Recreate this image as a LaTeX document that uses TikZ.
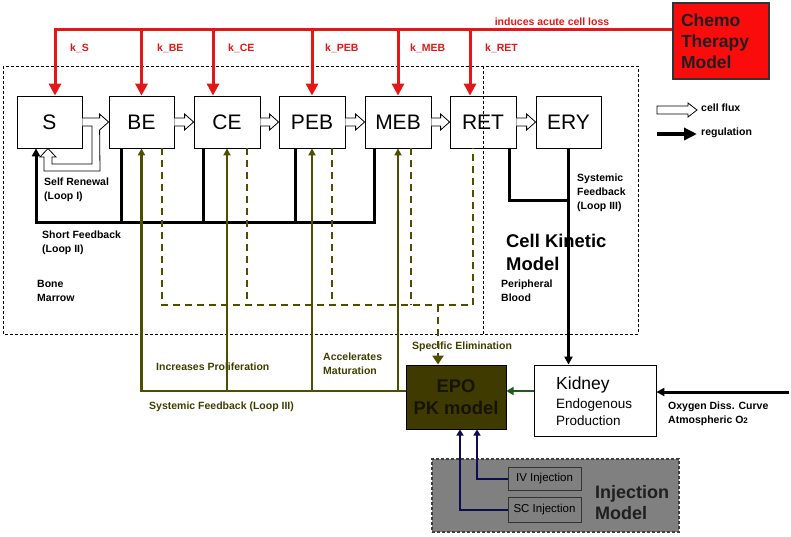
\documentclass[tikz,border=0pt]{standalone}
\usepackage{fontspec}
\setmainfont{Liberation Sans}
\usetikzlibrary{arrows.meta,calc}
\definecolor{cred}{RGB}{228,22,22}
\definecolor{chemofill}{RGB}{250,12,12}
\definecolor{oliveline}{RGB}{78,78,0}
\definecolor{olivetext}{RGB}{62,62,0}
\definecolor{epofill}{RGB}{62,58,0}
\definecolor{epotext}{RGB}{20,20,0}
\definecolor{kgreen}{RGB}{30,92,30}
\definecolor{navyc}{RGB}{12,12,82}
\definecolor{injgray}{RGB}{128,128,128}
\newcommand\fluxarrow[2]{\draw[flux] ($(#1)+(0,-4)$) -- ($(#2)+(-9,-4)$) -- ($(#2)+(-9,-8)$) -- (#2) -- ($(#2)+(-9,8)$) -- ($(#2)+(-9,4)$) -- ($(#1)+(0,4)$);}
\begin{document}
\begin{tikzpicture}[x=1pt,y=-1pt,
  cellbox/.style={draw, line width=0.8pt, fill=white, minimum width=65pt, minimum height=52pt, inner sep=0pt, font=\fontsize{21}{24}\selectfont},
  lbl/.style={font=\fontsize{10.5}{14}\selectfont\bfseries, align=left, anchor=west, inner sep=0pt},
  redlbl/.style={lbl, text=cred},
  olivelbl/.style={lbl, text=olivetext},
  biglbl/.style={font=\fontsize{18.4}{23}\selectfont\bfseries, align=left, anchor=west, inner sep=0pt},
  redln/.style={draw=cred, line width=3pt, line join=miter},
  redarr/.style={redln, -{Triangle[length=12pt,width=12pt]}},
  regln/.style={draw=black, line width=3pt, line join=miter},
  regarr/.style={regln, -{Triangle[length=8pt,width=8pt]}},
  flux/.style={draw, fill=white, line width=0.8pt, line join=miter},
  oliveln/.style={draw=oliveline, line width=2.6pt, line join=miter},
  olivearr/.style={oliveln, -{Triangle[length=7pt,width=7pt]}},
  olivedash/.style={oliveln, line width=2.9pt, dash pattern=on 7pt off 5pt},
  navyarr/.style={draw=navyc, line width=2pt, line join=miter, -{Triangle[length=6pt,width=7pt]}},
  region/.style={draw, line width=0.9pt, dash pattern=on 3pt off 2pt}
]
\useasboundingbox (0,0) rectangle (791,536);

% Cell kinetic model region
\draw[region] (3,66) rectangle (638,334);

% compartments
\node[cellbox] (S) at (49.5,122) {S};
\node[cellbox] (BE) at (141.5,122) {BE};
\node[cellbox, minimum width=66pt] (CE) at (227,122) {CE};
\node[cellbox, minimum width=66pt] (PEB) at (312,122) {PEB};
\node[cellbox, minimum width=66pt] (MEB) at (398,122) {MEB};
\node[cellbox, minimum width=66pt] (RET) at (483,122) {RET};
\node[cellbox] (ERY) at (568.5,122) {ERY};

% other models
\node[draw=black!80, line width=1.5pt, fill=chemofill, minimum width=96pt, minimum height=76pt, inner sep=0pt, text width=80pt, align=left, font=\fontsize{17.5}{21}\selectfont\bfseries, text=black!88] (chemo) at (721,41) {Chemo\\Therapy\\Model};
\node[draw, line width=1pt, fill=epofill, minimum width=100pt, minimum height=64pt, inner sep=0pt, align=center, font=\fontsize{18.4}{22}\selectfont\bfseries, text=epotext] (epo) at (456,397) {EPO\\PK model};
\node[draw, line width=0.8pt, fill=white, minimum width=122pt, minimum height=71pt, inner sep=0pt] (kidney) at (595,400.5) {};
\node[anchor=west, inner sep=0pt, font=\fontsize{17.5}{21}\selectfont] (kidT) at (556,385) {Kidney};
\node[anchor=west, inner sep=0pt, align=left, font=\fontsize{13.5}{16.5}\selectfont] (kidP) at (556,412) {Endogenous\\Production};
\node[draw=black!75, line width=1.2pt, dash pattern=on 3pt off 2pt, fill=injgray, minimum width=247pt, minimum height=73pt, inner sep=0pt] (inj) at (555.5,495.5) {};
\node[draw=black!80, line width=0.8pt, minimum width=73pt, minimum height=23pt, inner sep=0pt, font=\fontsize{11.5}{13}\selectfont] (iv) at (544.5,478.5) {IV Injection};
\node[draw=black!80, line width=0.8pt, minimum width=73pt, minimum height=25pt, inner sep=0pt, font=\fontsize{11.5}{13}\selectfont] (sc) at (544.5,509.5) {SC Injection};
\node[font=\fontsize{18}{21}\selectfont\bfseries, align=left, anchor=west, inner sep=0pt, text=black!88] (injT) at (595,502.5) {Injection\\Model};

% labels
\node[redlbl] (kS) at (70,48) {k\_S};
\node[redlbl] (kBE) at (157,48) {k\_BE};
\node[redlbl] (kCE) at (228,48) {k\_CE};
\node[redlbl] (kPEB) at (325,48) {k\_PEB};
\node[redlbl] (kMEB) at (410,48) {k\_MEB};
\node[redlbl] (kRET) at (485,48) {k\_RET};
\node[redlbl, anchor=center] (acute) at (552,22) {induces acute cell loss};
\node[lbl] (selfren) at (44,189.5) {Self Renewal\\(Loop I)};
\node[lbl] (shortfb) at (42,243) {Short Feedback\\(Loop II)};
\node[lbl] (bm) at (37,291) {Bone\\Marrow};
\node[lbl] (sysfb) at (577,193) {Systemic\\Feedback\\(Loop III)};
\node[biglbl] (ckm) at (506,252.5) {Cell Kinetic\\Model};
\node[lbl] (pb) at (501,291) {Peripheral\\Blood};
\node[olivelbl] (incprol) at (156,367) {Increases Proliferation};
\node[olivelbl] (accmat) at (323,364) {Accelerates\\Maturation};
\node[olivelbl] (sysfb2) at (149,407) {Systemic Feedback (Loop III)};
\node[olivelbl] (specel) at (412,347) {Specific Elimination};
\node[lbl] (oxyT) at (668,413.5) {Oxygen Diss. Curve\\Atmospheric O{\fontsize{8}{9}\selectfont 2}};
\node[lbl] (lflux) at (701,108) {cell flux};
\node[lbl] (lreg) at (701,133) {regulation};

% legend
\coordinate (lf1) at (657,110);
\coordinate (lf2) at (697,110);
\draw[flux] ($(lf1)+(0,-4)$) -- ($(lf2)+(-9,-4)$) -- ($(lf2)+(-9,-7)$) -- (lf2) -- ($(lf2)+(-9,7)$) -- ($(lf2)+(-9,4)$) -- ($(lf1)+(0,4)$) -- cycle;
\coordinate (lr1) at (657,134);
\coordinate (lr2) at (697,134);
\draw[line width=3.5pt, -{Triangle[length=13pt,width=12pt]}] (lr1) -- (lr2);

% chemotherapy (red)
\coordinate (rS) at ($(S.north |- 0,29)+(5.5,0)$);
\coordinate (rCE) at ($(CE.north)+(-14,0)$);
\coordinate (rRET) at ($(RET.north)+(-13,0)$);
\draw[redarr] (rS -| chemo.west) -- (rS) -- (rS |- S.north);
\draw[redarr] (BE.north |- rS) -- (BE.north);
\draw[redarr] (rCE |- rS) -- (rCE);
\draw[redarr] (PEB.north |- rS) -- (PEB.north);
\draw[redarr] (MEB.north |- rS) -- (MEB.north);
\draw[redarr] (rRET |- rS) -- (rRET);

% short feedback (loop II)
\coordinate (sf) at (36,222);
\coordinate (fBE) at ($(BE.south west)+(13,0)$);
\coordinate (fCE) at ($(CE.south west)+(9.5,0)$);
\coordinate (fPEB) at ($(PEB.south west)+(17,0)$);
\coordinate (fMEB) at ($(MEB.south west)+(9.5,0)$);
\draw[regarr] (fMEB) |- (sf) -- (sf |- S.south);
\draw[regln] (fBE) -- (fBE |- sf);
\draw[regln] (fCE) -- (fCE |- sf);
\draw[regln] (fPEB) -- (fPEB |- sf);

% systemic feedback to kidney
\coordinate (fRET) at ($(RET.south)+(26.5,0)$);
\coordinate (yfb) at (0,200);
\draw[regln] (fRET) |- (ERY.south |- yfb);
\draw[regarr] (ERY.south) -- (ERY.south |- kidney.north);
\coordinate (oxy) at (789,392);
\draw[regarr] (oxy) -- (oxy -| kidney.east);

% kidney -> EPO
\coordinate (kg) at ($(kidney.west)+(0,-9.5)$);
\draw[draw=kgreen, line width=2.5pt, -{Triangle[length=7pt,width=8pt]}] (kg) -- (kg -| epo.east);

% specific elimination (dashed olive)
\coordinate (sd) at (0,305);
\coordinate (dBE) at ($(BE.south)+(20.5,0)$);
\coordinate (dCE) at ($(CE.south)+(20,0)$);
\coordinate (dPEB) at ($(PEB.south)+(20,0)$);
\coordinate (dMEB) at ($(MEB.south)+(13,0)$);
\coordinate (dRET) at ($(RET.south)+(-10,0)$);
\coordinate (dEPO) at ($(epo.north)+(-18,0)$);
\draw[olivedash] (dBE) -- (dBE |- sd) -- (dRET |- sd) -- (dRET);
\draw[olivedash] (dCE) -- (dCE |- sd);
\draw[olivedash] (dPEB) -- (dPEB |- sd);
\draw[olivedash] (dMEB) -- (dMEB |- sd);
\draw[olivedash, -{Triangle[length=9pt,width=11pt]}] (dEPO |- sd) -- (dEPO);

% systemic feedback (olive solid)
\coordinate (ol) at (0,391);
\draw[olivearr] (ol -| epo.west) -| (BE.south);
\draw[olivearr] (CE.south |- ol) -- (CE.south);
\draw[olivearr] (PEB.south |- ol) -- (PEB.south);
\draw[olivearr] (MEB.south |- ol) -- (MEB.south);

% injections
\draw[navyarr] (iv.west) -| ($(epo.south)+(21,0)$);
\draw[navyarr] (sc.west) -| ($(epo.south)+(4,0)$);

% cell flux
\draw[flux] ($(S.east)+(0,-4)$) -- ($(BE.west)+(-9,-4)$) -- ($(BE.west)+(-9,-8)$) -- (BE.west) -- ($(BE.west)+(-9,8)$) -- (100,171) -- (44,171) -- (44,157) -- (40,157) -- (48,148.5) -- (56,157) -- (52,157) -- (52,164) -- (92,164) -- (92,126) -- ($(S.east)+(0,4)$);
\fluxarrow{BE.east}{CE.west}
\fluxarrow{CE.east}{PEB.west}
\fluxarrow{PEB.east}{MEB.west}
\fluxarrow{MEB.east}{RET.west}
\fluxarrow{RET.east}{ERY.west}

% bone marrow / peripheral blood divider
\coordinate (div) at (483,66);
\draw[region] (div) -- (div |- 0,334);
\end{tikzpicture}
\end{document}
